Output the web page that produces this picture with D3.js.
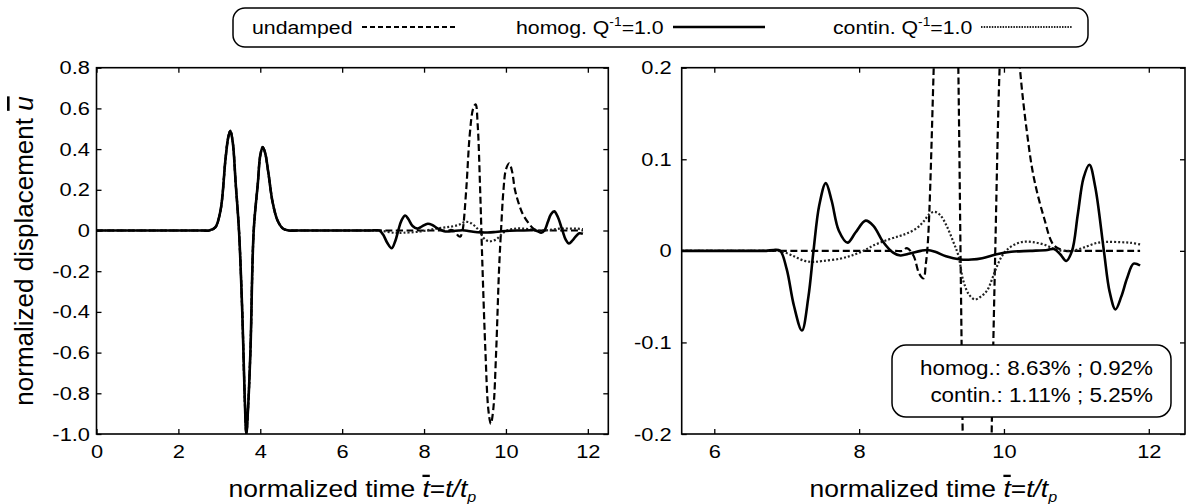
<!DOCTYPE html>
<html>
<head>
<meta charset="utf-8">
<script src="https://cdn.jsdelivr.net/npm/d3@7"></script>
<style>
body { margin: 0; background: #fff; }
svg { font-family: "Liberation Sans", Arial, sans-serif; }
</style>
</head>
<body>
<script>
// incident pulse, identical for the three cases
var pulseT = [0, 2.4, 2.6, 2.75, 2.9, 3.03, 3.15, 3.22, 3.27, 3.33, 3.4, 3.48, 3.56, 3.62, 3.66, 3.7, 3.76, 3.84, 3.94, 4.0, 4.06, 4.12, 4.2, 4.3, 4.42, 4.55, 4.7, 4.9, 5.3];
var pulseU = [0, 0, 0, 0, 0.015, 0.1, 0.35, 0.46, 0.49, 0.43, 0.23, 0, -0.4, -0.82, -1.0, -0.88, -0.59, 0, 0.23, 0.37, 0.41, 0.38, 0.28, 0.14, 0.05, 0.01, 0, 0, 0];

// undamped (dashed)
var undampedT = pulseT.concat([8.3, 8.5, 8.6, 8.66, 8.75, 8.83, 8.89, 8.92, 8.95, 9.03, 9.12, 9.2, 9.26, 9.31, 9.37, 9.4, 9.43, 9.5, 9.57, 9.63, 9.69, 9.76, 9.83, 9.88, 9.94, 10.0, 10.08, 10.15, 10.22, 10.32, 10.41, 10.55, 10.69, 10.85, 11.0, 11.88]);
var undampedU = pulseU.concat([0, 0, 0, 0.003, -0.005, -0.025, -0.03, -0.015, 0.01, 0.2, 0.48, 0.6, 0.62, 0.52, 0.2, 0, -0.2, -0.6, -0.88, -0.95, -0.88, -0.6, -0.2, 0, 0.2, 0.3, 0.33, 0.29, 0.2, 0.128, 0.081, 0.037, 0.006, 0, 0, 0]);

// homogeneous Q^-1 = 1.0 (solid)
var homogT = pulseT.concat([6.4, 6.6, 6.72, 6.82, 6.91, 7.0, 7.1, 7.21, 7.3, 7.37, 7.45, 7.54, 7.62, 7.72, 7.84, 7.95, 8.09, 8.2, 8.33, 8.47, 8.57, 8.7, 8.85, 8.94, 9.05, 9.2, 9.4, 9.55, 9.7, 9.9, 10.1, 10.36, 10.6, 10.69, 10.78, 10.86, 10.94, 11.02, 11.1, 11.18, 11.26, 11.38, 11.46, 11.54, 11.62, 11.7, 11.79, 11.88]);
var homogU = pulseU.concat([0, 0, 0, 0.001, 0, -0.02, -0.06, -0.087, -0.05, 0, 0.05, 0.074, 0.055, 0.022, 0.009, 0.02, 0.033, 0.027, 0.01, -0.002, -0.005, -0.003, 0, 0.001, -0.001, -0.006, -0.0094, -0.0095, -0.008, -0.0036, -0.001, 0, 0.001, 0.002, -0.004, -0.011, 0, 0.04, 0.08, 0.094, 0.07, 0, -0.045, -0.064, -0.05, -0.03, -0.014, -0.016]);

// continuous Q^-1 = 1.0 (dotted)
var continT = pulseT.concat([6.5, 6.7, 6.85, 6.95, 7.1, 7.25, 7.37, 7.5, 7.74, 7.9, 8.06, 8.2, 8.38, 8.55, 8.66, 8.8, 8.89, 8.97, 9.04, 9.12, 9.21, 9.3, 9.37, 9.44, 9.52, 9.6, 9.68, 9.77, 9.84, 9.9, 9.97, 10.04, 10.15, 10.27, 10.4, 10.55, 10.7, 10.82, 11.0, 11.15, 11.29, 11.42, 11.6, 11.75, 11.88]);
var continU = pulseU.concat([0, 0, 0, -0.001, -0.006, -0.011, -0.012, -0.011, -0.0085, -0.005, 0, 0.006, 0.0117, 0.016, 0.019, 0.025, 0.032, 0.04, 0.0426, 0.039, 0.027, 0.01, -0.005, -0.033, -0.048, -0.053, -0.05, -0.043, -0.03, -0.0175, -0.006, 0.001, 0.007, 0.01, 0.0095, 0.007, 0.002, 0, 0.001, 0.005, 0.0088, 0.0098, 0.0095, 0.0088, 0.007]);

var leftXTicks = [0, 2, 4, 6, 8, 10, 12];
var leftYTicks = [-1.0, -0.8, -0.6, -0.4, -0.2, 0, 0.2, 0.4, 0.6, 0.8];
var rightXTicks = [6, 8, 10, 12];
var rightYTicks = [-0.2, -0.1, 0, 0.1, 0.2];

var legendLabels = ["undamped", "homog.", "contin."];
var errorLines = ["homog.: 8.63% ; 0.92%", "contin.: 1.11% ; 5.25%"];

var styles = {
  undamped: {width: 2.2, dash: "7,3.5", color: "#000"},
  homog: {width: 2.6, dash: null, color: "#000"},
  contin: {width: 2.2, dash: "2,2", color: "#222"}
};
var series = [
  {key: "undamped", t: undampedT, u: undampedU},
  {key: "contin", t: continT, u: continU},
  {key: "homog", t: homogT, u: homogU}
];

var SX = 1.15;
function stretch(sel, origin) {
  sel.style("transform-box", "fill-box")
     .style("transform-origin", origin)
     .style("transform", "scaleX(" + SX + ")");
}
function fmt(d) {
  if (d === 0) return "0";
  return (d < 0 ? "-" : "") + Math.abs(d).toFixed(1);
}

var svg = d3.select("body").append("svg")
            .attr("width", 1188)
            .attr("height", 504);

var top0 = 67.7, bot0 = 434;

function panel(cfg) {
  var x = d3.scaleLinear().domain(cfg.xDomain).range(cfg.xRange),
      y = d3.scaleLinear().domain(cfg.yDomain).range([bot0, top0]);
  var g = svg.append("g");

  g.append("clipPath").attr("id", cfg.id)
   .append("rect")
   .attr("x", cfg.xRange[0]).attr("y", top0)
   .attr("width", cfg.xRange[1] - cfg.xRange[0]).attr("height", bot0 - top0);

  var line = d3.line()
               .x(function(d) { return x(d[0]); })
               .y(function(d) { return y(d[1]); })
               .curve(d3.curveCatmullRom.alpha(0.5));

  var lines = g.append("g").attr("clip-path", "url(#" + cfg.id + ")");
  series.forEach(function(s) {
    var st = styles[s.key];
    lines.append("path")
         .attr("d", line(d3.zip(s.t, s.u)))
         .attr("fill", "none")
         .attr("stroke", st.color)
         .attr("stroke-width", st.width)
         .attr("stroke-dasharray", st.dash)
         .attr("stroke-linejoin", "round");
  });

  function styleAxis(a) {
    a.attr("font-family", null).attr("font-size", 19);
    a.select(".domain").remove();
    a.selectAll(".tick line").attr("stroke-width", 1.3);
    a.selectAll(".tick text").attr("fill", "#000");
  }

  var ax = g.append("g").attr("transform", "translate(0," + bot0 + ")")
            .call(d3.axisBottom(x).tickValues(cfg.xTicks).tickSize(-5).tickPadding(11).tickFormat(d3.format("d")));
  styleAxis(ax);
  stretch(ax.selectAll(".tick text"), "50% 50%");

  var axt = g.append("g").attr("transform", "translate(0," + top0 + ")")
             .call(d3.axisTop(x).tickValues(cfg.xTicks).tickSize(-5).tickFormat(""));
  styleAxis(axt);

  var ay = g.append("g").attr("transform", "translate(" + cfg.xRange[0] + ",0)")
            .call(d3.axisLeft(y).tickValues(cfg.yTicks).tickSize(-5).tickPadding(cfg.yPad).tickFormat(fmt));
  styleAxis(ay);
  stretch(ay.selectAll(".tick text"), "100% 50%");

  var ayr = g.append("g").attr("transform", "translate(" + cfg.xRange[1] + ",0)")
             .call(d3.axisRight(y).tickValues(cfg.yTicks).tickSize(-5).tickFormat(""));
  styleAxis(ayr);

  g.append("rect")
   .attr("x", cfg.xRange[0]).attr("y", top0)
   .attr("width", cfg.xRange[1] - cfg.xRange[0]).attr("height", bot0 - top0)
   .attr("fill", "none").attr("stroke", "#000").attr("stroke-width", 1.6);

  // x axis title
  var cx = (cfg.xRange[0] + cfg.xRange[1]) / 2;
  var t = svg.append("text").attr("x", cx).attr("y", 497)
             .attr("text-anchor", "middle").attr("font-size", 23);
  t.append("tspan").text("normalized time ");
  t.append("tspan").attr("font-style", "italic").style("text-decoration", "overline").text("t");
  t.append("tspan").text("=");
  t.append("tspan").attr("font-style", "italic").text("t/t");
  t.append("tspan").attr("font-style", "italic").attr("font-size", 14).attr("dy", 5).text("p");
  stretch(t, "50% 50%");
  return g;
}

panel({id: "clipL", xDomain: [0, 12.5], xRange: [96.5, 608.3], yDomain: [-1, 0.8],
       xTicks: leftXTicks, yTicks: leftYTicks, yPad: 6.5});
var right = panel({id: "clipR", xDomain: [5.55, 12.5], xRange: [681.7, 1185], yDomain: [-0.2, 0.2],
       xTicks: rightXTicks, yTicks: rightYTicks, yPad: 10});

// y axis title
var yl = svg.append("text").attr("transform", "translate(33,251) rotate(-90)")
            .attr("text-anchor", "middle").attr("font-size", 26);
yl.append("tspan").text("normalized displacement ");
yl.append("tspan").attr("font-style", "italic").style("text-decoration", "overline").text("u");

// error box in right panel
right.append("rect")
     .attr("x", 892).attr("y", 345).attr("width", 279).attr("height", 72)
     .attr("rx", 14).attr("ry", 14)
     .attr("fill", "#fff").attr("stroke", "#000").attr("stroke-width", 1.5);
errorLines.forEach(function(s, i) {
  var tx = right.append("text").attr("x", 1153).attr("y", 375 + i * 27)
                .attr("text-anchor", "end").attr("font-size", 19.5).text(s);
  stretch(tx, "100% 50%");
});

// legend
var lg = svg.append("g");
lg.append("rect")
  .attr("x", 233).attr("y", 8).attr("width", 855).attr("height", 39)
  .attr("rx", 12).attr("ry", 12)
  .attr("fill", "#fff").attr("stroke", "#000").attr("stroke-width", 1.5);

var legendItems = [
  {key: "undamped", tx: 252, x1: 362, x2: 455, q: false},
  {key: "homog", tx: 516, x1: 673, x2: 765, q: true},
  {key: "contin", tx: 833, x1: 981, x2: 1072, q: true}
];
legendItems.forEach(function(it, i) {
  var t = lg.append("text").attr("x", it.tx).attr("y", 34).attr("font-size", 18.5);
  if (it.q) {
    t.append("tspan").text(legendLabels[i] + " Q");
    t.append("tspan").attr("font-size", 12).attr("dy", -8).text("-1");
    t.append("tspan").attr("dy", 8).text("=1.0");
  } else {
    t.text(legendLabels[i]);
  }
  stretch(t, "0% 50%");
  var st = styles[it.key];
  lg.append("line")
    .attr("x1", it.x1).attr("x2", it.x2).attr("y1", 27).attr("y2", 27)
    .attr("stroke", st.color).attr("stroke-width", st.width)
    .attr("stroke-dasharray", it.key === "contin" ? "1.5,1.2" : (it.key === "undamped" ? "5,3" : null));
});
</script>
</body>
</html>
